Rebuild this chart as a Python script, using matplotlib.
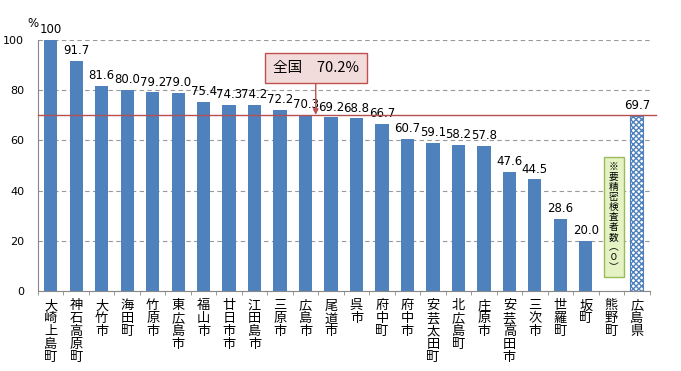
import numpy as np
import matplotlib
matplotlib.use("Agg")
import matplotlib.pyplot as plt

plt.rcParams['font.family'] = ['Noto Sans CJK JP', 'DejaVu Sans']

names = ["大崎上島町", "神石高原町", "大竹市", "海田町", "竹原市", "東広島市", "福山市",
         "廿日市市", "江田島市", "三原市", "広島市", "尾道市", "呉市", "府中町", "府中市",
         "安芸太田町", "北広島町", "庄原市", "安芸高田市", "三次市", "世羅町", "坂町",
         "熊野町", "広島県"]
values = [100, 91.7, 81.6, 80.0, 79.2, 79.0, 75.4, 74.3, 74.2, 72.2, 70.3, 69.2,
          68.8, 66.7, 60.7, 59.1, 58.2, 57.8, 47.6, 44.5, 28.6, 20.0, 0, 69.7]
labels = ["100", "91.7", "81.6", "80.0", "79.2", "79.0", "75.4", "74.3", "74.2", "72.2",
          "70.3", "69.2", "68.8", "66.7", "60.7", "59.1", "58.2", "57.8", "47.6", "44.5",
          "28.6", "20.0", "", "69.7"]
national = 70.2

blue = "#4f81bd"
fig = plt.figure(figsize=(6.81, 3.71), dpi=100)
ax = fig.add_axes([0.0558, 0.2156, 0.898, 0.6764])

x = np.arange(len(names))
ax.bar(x[:-1], values[:-1], width=0.52, color=blue, zorder=3)
ax.bar(x[-1], values[-1], width=0.52, color="white", edgecolor=blue,
       hatch="xxxxxx", linewidth=0.8, zorder=3)

for xi, v, lab in zip(x, values, labels):
    if lab:
        ax.text(xi, v + 1.5, lab, ha="center", va="bottom", fontsize=8.5,
                family=["DejaVu Sans"])

ax.set_xlim(-0.5, len(names) - 0.5)
ax.set_ylim(0, 100)
ax.set_yticks([0, 20, 40, 60, 80, 100])
ax.tick_params(axis="y", length=0, labelsize=8, pad=10)
for t in ax.get_yticklabels():
    t.set_family("DejaVu Sans")
ax.yaxis.grid(True, linestyle=(0, (4, 3)), color="#999999", linewidth=0.8, zorder=0)

ax.set_xticks(x)
ax.set_xticklabels(["\n".join(n) for n in names], fontsize=9.5, va="top",
                   linespacing=1.0)
ax.tick_params(axis="x", length=0, pad=6)
ax.set_xticks(np.arange(len(names) + 1) - 0.5, minor=True)
ax.tick_params(axis="x", which="minor", length=3, color="#888888")

for s in ["top", "right"]:
    ax.spines[s].set_visible(False)
ax.spines["left"].set_color("#888888")
ax.spines["bottom"].set_color("#888888")

ax.axhline(national, color="#b5504e", linewidth=1, zorder=4, xmax=1.01, clip_on=False)

ax.text(-0.7, 104, "%", fontsize=8.5, ha="center", va="bottom", family=["DejaVu Sans"])

ax.annotate("全国　70.2%", xy=(10.4, national), xytext=(10.4, 89),
            ha="center", va="center", fontsize=10.5,
            bbox=dict(boxstyle="square,pad=0.55", fc="#f2dcdb", ec="#c0504d", lw=1),
            arrowprops=dict(arrowstyle="-|>", color="#c0504d", lw=1,
                            shrinkA=0, shrinkB=0, mutation_scale=8))

ax.text(22.1, 29.5, "\n".join("※要精密検査者数︵０︶"), ha="center", va="center",
        fontsize=7, linespacing=1.0,
        bbox=dict(boxstyle="square,pad=0.55", fc="#e4f2c4", ec="#9bbb59", lw=1))

fig.savefig("out.png", dpi=100)
